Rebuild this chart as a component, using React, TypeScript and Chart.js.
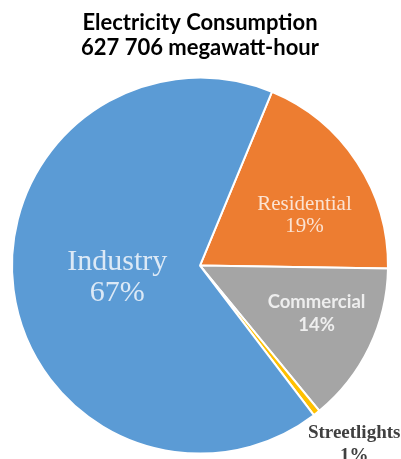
import React, { useEffect, useRef } from "react";
import { Chart, registerables } from "chart.js";

Chart.register(...registerables);

const titleLines = ["Electricity Consumption", "627 706 megawatt-hour"];
const categories = ["Residential", "Commercial", "Streetlights", "Industry"];
const shares = [19.0, 13.8, 0.6, 66.6];
const colors = ["#ED7D31", "#A5A5A5", "#FFC000", "#5B9BD5"];

// label styling and placement (offsets in units of pie radius from the centre)
const labelStyles = [
  { font: "21px 'Liberation Serif'", color: "#FBE3D3", dx: 0.556, dy1: -0.323, dy2: -0.206 },
  { font: "bold 18.5px Lato", color: "#EEEEEE", dx: 0.62, dy1: 0.196, dy2: 0.317 },
  { font: "bold 19px 'Liberation Serif'", color: "#404040", dx: 0.82, dy1: 0.89, dy2: 1.016 },
  { font: "30px 'Liberation Serif'", color: "#DCE9F6", dx: -0.44, dy1: -0.016, dy2: 0.148 },
];

const labelPlugin = {
  id: "sliceLabels",
  afterDatasetsDraw(chart: any) {
    const meta = chart.getDatasetMeta(0);
    const arc0 = meta.data[0];
    if (!arc0) return;
    const { x, y, outerRadius } = arc0.getProps(["x", "y", "outerRadius"], true);
    const ctx = chart.ctx;
    ctx.save();
    ctx.textAlign = "center";
    ctx.textBaseline = "middle";
    categories.forEach((cat, i) => {
      const s = labelStyles[i];
      ctx.font = s.font;
      ctx.fillStyle = s.color;
      const lx = x + s.dx * outerRadius;
      ctx.fillText(cat, lx, y + s.dy1 * outerRadius);
      ctx.fillText(Math.round(shares[i]) + "%", lx, y + s.dy2 * outerRadius);
    });
    ctx.restore();
  },
};

export default function App() {
  const ref = useRef<HTMLCanvasElement>(null);
  useEffect(() => {
    if (!ref.current) return;
    const chart = new Chart(ref.current, {
      type: "pie",
      data: {
        labels: categories,
        datasets: [
          {
            data: shares,
            backgroundColor: colors,
            borderColor: "#FFFFFF",
            borderWidth: 2,
          },
        ],
      },
      options: {
        animation: false,
        responsive: true,
        maintainAspectRatio: false,
        rotation: 22.5,
        layout: { padding: { left: 11, right: 12, top: 0, bottom: 4 } },
        plugins: {
          legend: { display: false },
          tooltip: { enabled: false },
          title: {
            display: true,
            text: titleLines,
            color: "#000000",
            font: { family: "Lato", size: 22, weight: "bold", lineHeight: 1.14 },
            padding: { top: 10, bottom: 16 },
          },
        },
      },
      plugins: [labelPlugin],
    });
    return () => chart.destroy();
  }, []);
  return (
    <div style={{ position: "fixed", left: 0, top: 0, width: 401, height: 459, background: "#fff" }}>
      <canvas ref={ref} />
    </div>
  );
}
